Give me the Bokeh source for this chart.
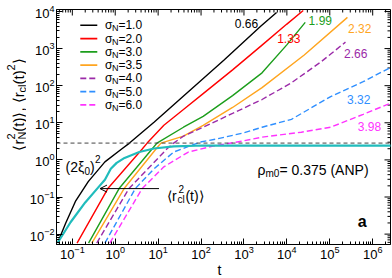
from math import pi
from bokeh.plotting import figure
from bokeh.layouts import row, column
from bokeh.models import Range1d, FixedTicker, Label, Arrow, OpenHead, Span
from bokeh.embed import file_html
from bokeh.resources import INLINE

FONT = "Liberation Sans"

# ---------------- data ----------------
sigma_labels = ["1.0", "2.0", "3.0", "3.5", "4.0", "5.0", "6.0"]
slope_labels = ["0.66", "1.33", "1.99", "2.32", "2.66", "3.32", "3.98"]

t_s10 = [0.0452, 0.0699, 0.118, 0.235, 0.575, 1.41, 2.15, 8.01, 45.5, 344, 2450, 5750]
r_s10 = [0.00575, 0.0196, 0.0759, 0.259, 0.885, 1.96, 2.84, 10.3, 61.2, 493, 3980, 9400]

t_s20 = [0.129, 0.673, 4.26, 5.54, 13.6, 38.9, 112, 543, 2640, 9840, 24100]
r_s20 = [0.00575, 0.169, 1.96, 2.84, 8.57, 22.9, 61.2, 267, 1240, 4500, 10600]

t_s30 = [0.239, 1.23, 7.21, 9.39, 38.9, 112, 543, 2640, 9840, 26800]
r_s30 = [0.00575, 0.169, 1.96, 2.84, 7.59, 14.9, 54.1, 222, 1240, 5090]

t_s35 = [0.285, 1.61, 8.91, 11.6, 38.9, 112, 543, 2640, 25400, 258000]
r_s35 = [0.00575, 0.169, 1.96, 2.84, 4.37, 8.57, 25.9, 88.5, 671, 6920]

t_s40 = [0.371, 2.09, 15.9, 23.0, 38.9, 112, 543, 2640, 12800, 62200, 232000]
r_s40 = [0.00575, 0.169, 1.96, 2.84, 4.37, 7.59, 17.9, 42.4, 120, 437, 1490]

t_s50 = [0.575, 2.94, 8.01, 23.0, 95.3, 222, 919, 2640, 12800, 105000, 600000, 2.49e6]
r_s50 = [0.00575, 0.169, 0.575, 1.63, 3.02, 3.63, 5.25, 7.59, 12.4, 50.9, 128, 302]

t_s60 = [0.748, 4.26, 13.6, 50.7, 189, 919, 2640, 21700, 105000, 600000, 2.49e6]
r_s60 = [0.00575, 0.169, 0.651, 1.63, 2.36, 3.21, 4.10, 5.58, 7.59, 16.9, 33.1]

t_cl = [0.0452, 0.0910, 0.200, 0.398, 0.575, 0.789, 1.08, 1.65, 3.64, 8.01, 23.0, 112, 3.0e6]
r_cl = [0.00575, 0.0209, 0.0713, 0.179, 0.293, 0.575, 0.832, 1.13, 1.63, 2.03, 2.32, 2.44, 2.44]

xi_level = 2.84          # (2 xi_0)^2
x_major = [1e-1, 1e0, 1e1, 1e2, 1e3, 1e4, 1e5, 1e6]
y_major = [1e-2, 1e-1, 1e0, 1e1, 1e2, 1e3, 1e4]

# ---------------- styles ----------------
colors = ["#000000", "#ff0000", "#1c9e1c", "#ffa51f", "#9b2aa8", "#2f8fff", "#ff33ff"]
dashes = ["solid", "solid", "solid", "solid", "6 3", "6 3", "6 3"]
cyan = "#20bcbc"

X0, X1 = 0.0428, 2.6e6
Y0, Y1 = 5.25e-3, 1.13e4
TOP_H = 261          # height of the plot row; a thin strip below holds "t"


def lx(px):   # placement helper: picture column -> t
    return 10 ** ((px - 110.5) / 43.6)


def ly(py):   # placement helper: picture row -> value
    return 10 ** ((161.0 - py) / 37.5)


x_minor = [k * 10.0 ** e for e in range(-2, 7) for k in range(2, 10)]
y_minor = [k * 10.0 ** e for e in range(-3, 5) for k in range(2, 10)]

p = figure(width=366, height=TOP_H, x_axis_type="log", y_axis_type="log",
           x_range=Range1d(X0, X1), y_range=Range1d(Y0, Y1),
           output_backend="svg", toolbar_location=None,
           min_border_left=25, min_border_right=2, min_border_top=9,
           min_border_bottom=15)
p.xgrid.visible = False
p.ygrid.visible = False
p.outline_line_color = "black"
p.background_fill_color = "white"

for ax in (p.xaxis[0], p.yaxis[0]):
    ax.major_tick_in = 6
    ax.major_tick_out = 0
    ax.minor_tick_in = 3
    ax.minor_tick_out = 0
    ax.axis_line_color = "black"
    ax.major_label_text_font = FONT
    ax.major_label_text_font_size = "13px"
    ax.major_label_text_color = "black"
    ax.major_label_standoff = 1

p.xaxis.ticker = FixedTicker(ticks=x_major, minor_ticks=x_minor)
p.yaxis.ticker = FixedTicker(ticks=y_major, minor_ticks=y_minor)
p.yaxis.major_label_standoff = 2

# mirrored inward ticks on the top and right edges
xt_major = [v for v in x_major if X0 < v < X1]
xt_minor = [v for v in x_minor if X0 < v < X1]
yt_major = [v for v in y_major if Y0 < v < Y1]
yt_minor = [v for v in y_minor if Y0 < v < Y1]
p.ray(x=xt_major, y=[Y1] * len(xt_major), length=6, length_units="screen",
      angle=-pi / 2, line_color="black", line_width=1)
p.ray(x=xt_minor, y=[Y1] * len(xt_minor), length=3, length_units="screen",
      angle=-pi / 2, line_color="black", line_width=1)
p.ray(x=[X1] * len(yt_major), y=yt_major, length=6, length_units="screen",
      angle=pi, line_color="black", line_width=1)
p.ray(x=[X1] * len(yt_minor), y=yt_minor, length=3, length_units="screen",
      angle=pi, line_color="black", line_width=1)

# horizontal dashed level
p.add_layout(Span(location=xi_level, dimension="width", line_color="#444444",
                  line_dash="4 3", line_width=1))

series = [(t_s10, r_s10), (t_s20, r_s20), (t_s30, r_s30), (t_s35, r_s35),
          (t_s40, r_s40), (t_s50, r_s50), (t_s60, r_s60)]
for (t, r), c, d in zip(series, colors, dashes):
    p.line(t, r, line_color=c, line_width=1.4, line_dash=d)

p.line(t_cl, r_cl, line_color=cyan, line_width=2.2)


def piece(x, y, txt, size, dx=0, dy=0, bold=False, angle=0, color="black",
          xu="data", yu="data", fig=None, baseline="alphabetic", align="left"):
    (fig or p).add_layout(Label(x=x, y=y, x_units=xu, y_units=yu, text=txt,
                                text_font=FONT, text_font_size=f"{size}px",
                                text_font_style="bold" if bold else "normal",
                                text_color=color, x_offset=dx, y_offset=dy,
                                angle=angle, text_baseline=baseline,
                                text_align=align))


# legend (drawn by hand so that the subscript N is a real subscript)
for i, (c, d, s) in enumerate(zip(colors, dashes, sigma_labels)):
    yy = ly(25 + 13.4 * i)
    p.ray(x=[lx(75)], y=[yy], length=17, length_units="screen", angle=0,
          line_color=c, line_width=1.6, line_dash=d)
    piece(lx(100), yy, "σ", 12, baseline="middle")
    piece(lx(100), yy, "N", 9, dx=7, dy=-3, baseline="middle")
    piece(lx(100), yy, "=" + s, 12, dx=13.5, baseline="middle")

# slope labels
slope_px = [(232, 23), (275, 38), (307, 20), (347, 28), (343, 53), (346, 100), (357, 127)]
for (x, y), txt, c in zip(slope_px, slope_labels, colors):
    piece(lx(x), ly(y), txt, 12, color=c, baseline="middle")

# (2 xi_0)^2
ax0, ay0 = lx(60), ly(168)
piece(ax0, ay0, "(2ξ", 14)
piece(ax0, ay0, "0", 10, dx=19, dy=-4)
piece(ax0, ay0, ")", 14, dx=24.6)
piece(ax0, ay0, "2", 10, dx=29.6, dy=8)

# <r_cl^2(t)>
bx0, by0 = lx(163), ly(197)
piece(bx0, by0, "⟨r", 14)
piece(bx0, by0, "cl", 10, dx=10.5, dy=-4)
piece(bx0, by0, "2", 10, dx=11.5, dy=7)
piece(bx0, by0, "(t)⟩", 14, dx=18.5)

# rho_m0 = 0.375 (ANP)
cx0, cy0 = lx(255), ly(171)
piece(cx0, cy0, "ρ", 14)
piece(cx0, cy0, "m0", 10, dx=8, dy=-4)
piece(cx0, cy0, "= 0.375  (ANP)", 14, dx=22)

# panel letter
piece(lx(357), ly(223), "a", 16, bold=True)

# arrow to the cluster curve
p.add_layout(Arrow(end=OpenHead(size=7, line_width=1, line_color="black"),
                   x_start=lx(155), y_start=ly(190), x_end=lx(95), y_end=ly(190),
                   line_color="black", line_width=1))

# ---------------- rotated y-axis label in a narrow side panel ----------------
lab = figure(width=26, height=TOP_H, x_range=(0, 1), y_range=(0, 1),
             x_axis_location=None, y_axis_location=None,
             output_backend="svg", toolbar_location=None, min_border=0)
lab.outline_line_color = None
lab.xgrid.visible = False
lab.ygrid.visible = False

y_start = TOP_H - 167
for txt, size, dy, dx in [("⟨r", 15, 0, 0), ("N", 11, 10.9, 3), ("2", 11, 10.9, -7.5),
                          ("(t)⟩, ⟨r", 15, 18.8, 0), ("cl", 11, 58.1, 3),
                          ("(t)", 15, 66.0, 0), ("2", 11, 80.1, -7.5),
                          ("⟩", 15, 86.2, 0)]:
    piece(18, y_start, txt, size, dx=dx, dy=dy, angle=pi / 2,
          xu="screen", yu="screen", fig=lab)

# ---------------- x-axis title strip ----------------
tfig = figure(width=392, height=278 - TOP_H, x_range=(0, 1), y_range=(0, 1),
              x_axis_location=None, y_axis_location=None,
              output_backend="svg", toolbar_location=None, min_border=0)
tfig.outline_line_color = None
tfig.xgrid.visible = False
tfig.ygrid.visible = False
piece(219, (278 - TOP_H) / 2, "t", 14, xu="screen", yu="screen", fig=tfig,
      baseline="middle", align="center")

layout = column(row(lab, p, spacing=0), tfig, spacing=0)
open("out.html", "w").write(file_html(layout, INLINE))
